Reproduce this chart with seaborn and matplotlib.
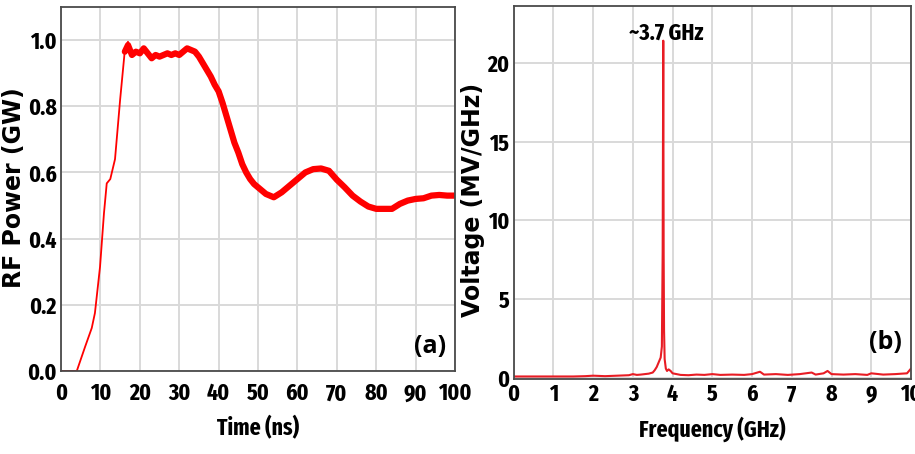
import matplotlib
matplotlib.use("Agg")
import matplotlib.pyplot as plt
import seaborn as sns

# (a) RF power vs time
rise_time_ns = [0, 4.0, 6.1, 7.8, 8.6, 9.9, 10.9, 11.6, 12.5, 13.7, 15.0, 16.2, 17.0]
rise_power_gw = [0, 0, 0.073, 0.13, 0.175, 0.315, 0.477, 0.567, 0.58, 0.64, 0.82, 0.97, 0.995]

main_time_ns = [16.2, 17, 18, 19, 20, 21, 22, 23, 24, 25, 26, 27, 28, 29, 30, 31, 32, 33, 34,
                35, 36, 37, 38, 39, 40, 41, 42, 43, 44, 45, 46, 47, 48, 49, 50, 52, 54, 56,
                58, 60, 62, 64, 66, 68, 70, 72, 74, 76, 78, 80, 82, 84, 86, 88, 90, 92, 94,
                96, 98, 100]
main_power_gw = [0.965, 0.985, 0.955, 0.965, 0.96, 0.975, 0.96, 0.945, 0.955, 0.95, 0.955,
                 0.96, 0.955, 0.96, 0.955, 0.965, 0.975, 0.97, 0.965, 0.95, 0.93, 0.91, 0.89,
                 0.865, 0.845, 0.81, 0.77, 0.73, 0.69, 0.66, 0.625, 0.6, 0.58, 0.565, 0.555,
                 0.535, 0.525, 0.54, 0.56, 0.58, 0.6, 0.61, 0.612, 0.605, 0.578, 0.555, 0.53,
                 0.512, 0.497, 0.49, 0.49, 0.49, 0.505, 0.515, 0.52, 0.522, 0.53, 0.532,
                 0.53, 0.53]

# (b) spectrum
freq_ghz = [0, 0.5, 1.0, 1.5, 1.8, 2.0, 2.3, 2.6, 2.9, 3.0, 3.1, 3.2, 3.3, 3.4, 3.5, 3.55,
            3.6, 3.65, 3.7, 3.73, 3.75, 3.765, 3.775, 3.785, 3.8, 3.83, 3.86, 3.9, 3.95, 4.0,
            4.1, 4.2, 4.4, 4.6, 4.8, 5.0, 5.2, 5.5, 5.8, 6.0, 6.2, 6.3, 6.6, 6.9, 7.2, 7.5,
            7.6, 7.8, 7.9, 8.0, 8.3, 8.6, 8.9, 9.0, 9.3, 9.6, 9.9, 10.0]
voltage_mv_ghz = [0.1, 0.1, 0.1, 0.1, 0.12, 0.15, 0.12, 0.15, 0.18, 0.25, 0.2, 0.22, 0.25,
                  0.28, 0.35, 0.5, 0.7, 1.0, 1.3, 2.0, 8.0, 21.4, 7.8, 3.0, 1.2, 0.6, 0.45,
                  0.55, 0.45, 0.3, 0.25, 0.2, 0.18, 0.22, 0.2, 0.25, 0.2, 0.22, 0.2, 0.25,
                  0.4, 0.22, 0.25, 0.2, 0.25, 0.35, 0.22, 0.3, 0.45, 0.25, 0.22, 0.25, 0.2,
                  0.3, 0.22, 0.25, 0.3, 0.6]

sns.set_theme(style="whitegrid")
plt.rcParams['font.family'] = ['Fira Sans Extra Condensed', 'DejaVu Sans']

fig = plt.figure(figsize=(9.15, 4.54), dpi=100)
ax1 = fig.add_axes([0.0667, 0.1828, 0.4306, 0.8018])
ax2 = fig.add_axes([0.5614, 0.1652, 0.4342, 0.8216])

grid_kw = dict(color='#d9d9d9', linewidth=1.4)
tick_font = dict(family=['Fira Sans Extra Condensed', 'DejaVu Sans'], weight='bold',
                 size=17, color='black')
ylab_font = dict(family='DejaVu Sans', weight='bold', size=17, color='black')

for ax in (ax1, ax2):
    ax.set_facecolor('white')
    ax.grid(True, **grid_kw)
    for s in ax.spines.values():
        s.set_color('#4a4a4a')
        s.set_linewidth(1.3)
    ax.tick_params(axis='y', length=0, pad=3)
ax1.tick_params(axis='x', length=0, pad=8)
ax2.tick_params(axis='x', length=0, pad=3)

sns.lineplot(x=rise_time_ns, y=rise_power_gw, ax=ax1, color='#ff0000', linewidth=1.3,
             sort=False)
sns.lineplot(x=main_time_ns, y=main_power_gw, ax=ax1, color='#ff0000', linewidth=4.5,
             sort=False, solid_joinstyle='round')
ax1.set_xlim(0, 100)
ax1.set_ylim(0, 1.1)
ax1.set_xticks(range(0, 101, 10))
ax1.set_yticks([0, 0.2, 0.4, 0.6, 0.8, 1.0])
ax1.set_xticklabels([str(v) for v in range(0, 101, 10)], **tick_font)
ax1.set_yticklabels(['0.0', '0.2', '0.4', '0.6', '0.8', '1.0'], **tick_font)
ax1.set_xlabel('Time (ns)', **tick_font)
ax1.set_ylabel('RF Power (GW)', **ylab_font)
ax1.xaxis.set_label_coords(0.5, -0.124)
ax1.yaxis.set_label_coords(-0.088, 0.503)
ax1.text(0.937, 0.066, '(a)', transform=ax1.transAxes, ha='center', va='center',
         fontsize=18, fontweight='bold', family='Open Sans', color='black')

sns.lineplot(x=freq_ghz, y=voltage_mv_ghz, ax=ax2, color='#e81c24', linewidth=1.5,
             sort=False)
ax2.set_xlim(0, 10)
ax2.set_ylim(-0.06, 23.6)
ax2.set_xticks(range(0, 11))
ax2.set_yticks([0, 5, 10, 15, 20])
ax2.set_xticklabels([str(v) for v in range(0, 11)], **tick_font)
ax2.set_yticklabels(['0', '5', '10', '15', '20'], **tick_font)
ax2.set_xlabel('Frequency (GHz)', **tick_font)
ax2.set_ylabel('Voltage (MV/GHz)', **ylab_font)
ax2.xaxis.set_label_coords(0.5, -0.099)
ax2.yaxis.set_label_coords(-0.072, 0.48)
ax2.text(0.935, 0.097, '(b)', transform=ax2.transAxes, ha='center', va='center',
         fontsize=18, fontweight='bold', family='Open Sans', color='black')
ax2.text(3.85, 21.9, '~3.7 GHz', ha='center', va='center', **tick_font)

fig.savefig('out.png', dpi=100, facecolor='white')
